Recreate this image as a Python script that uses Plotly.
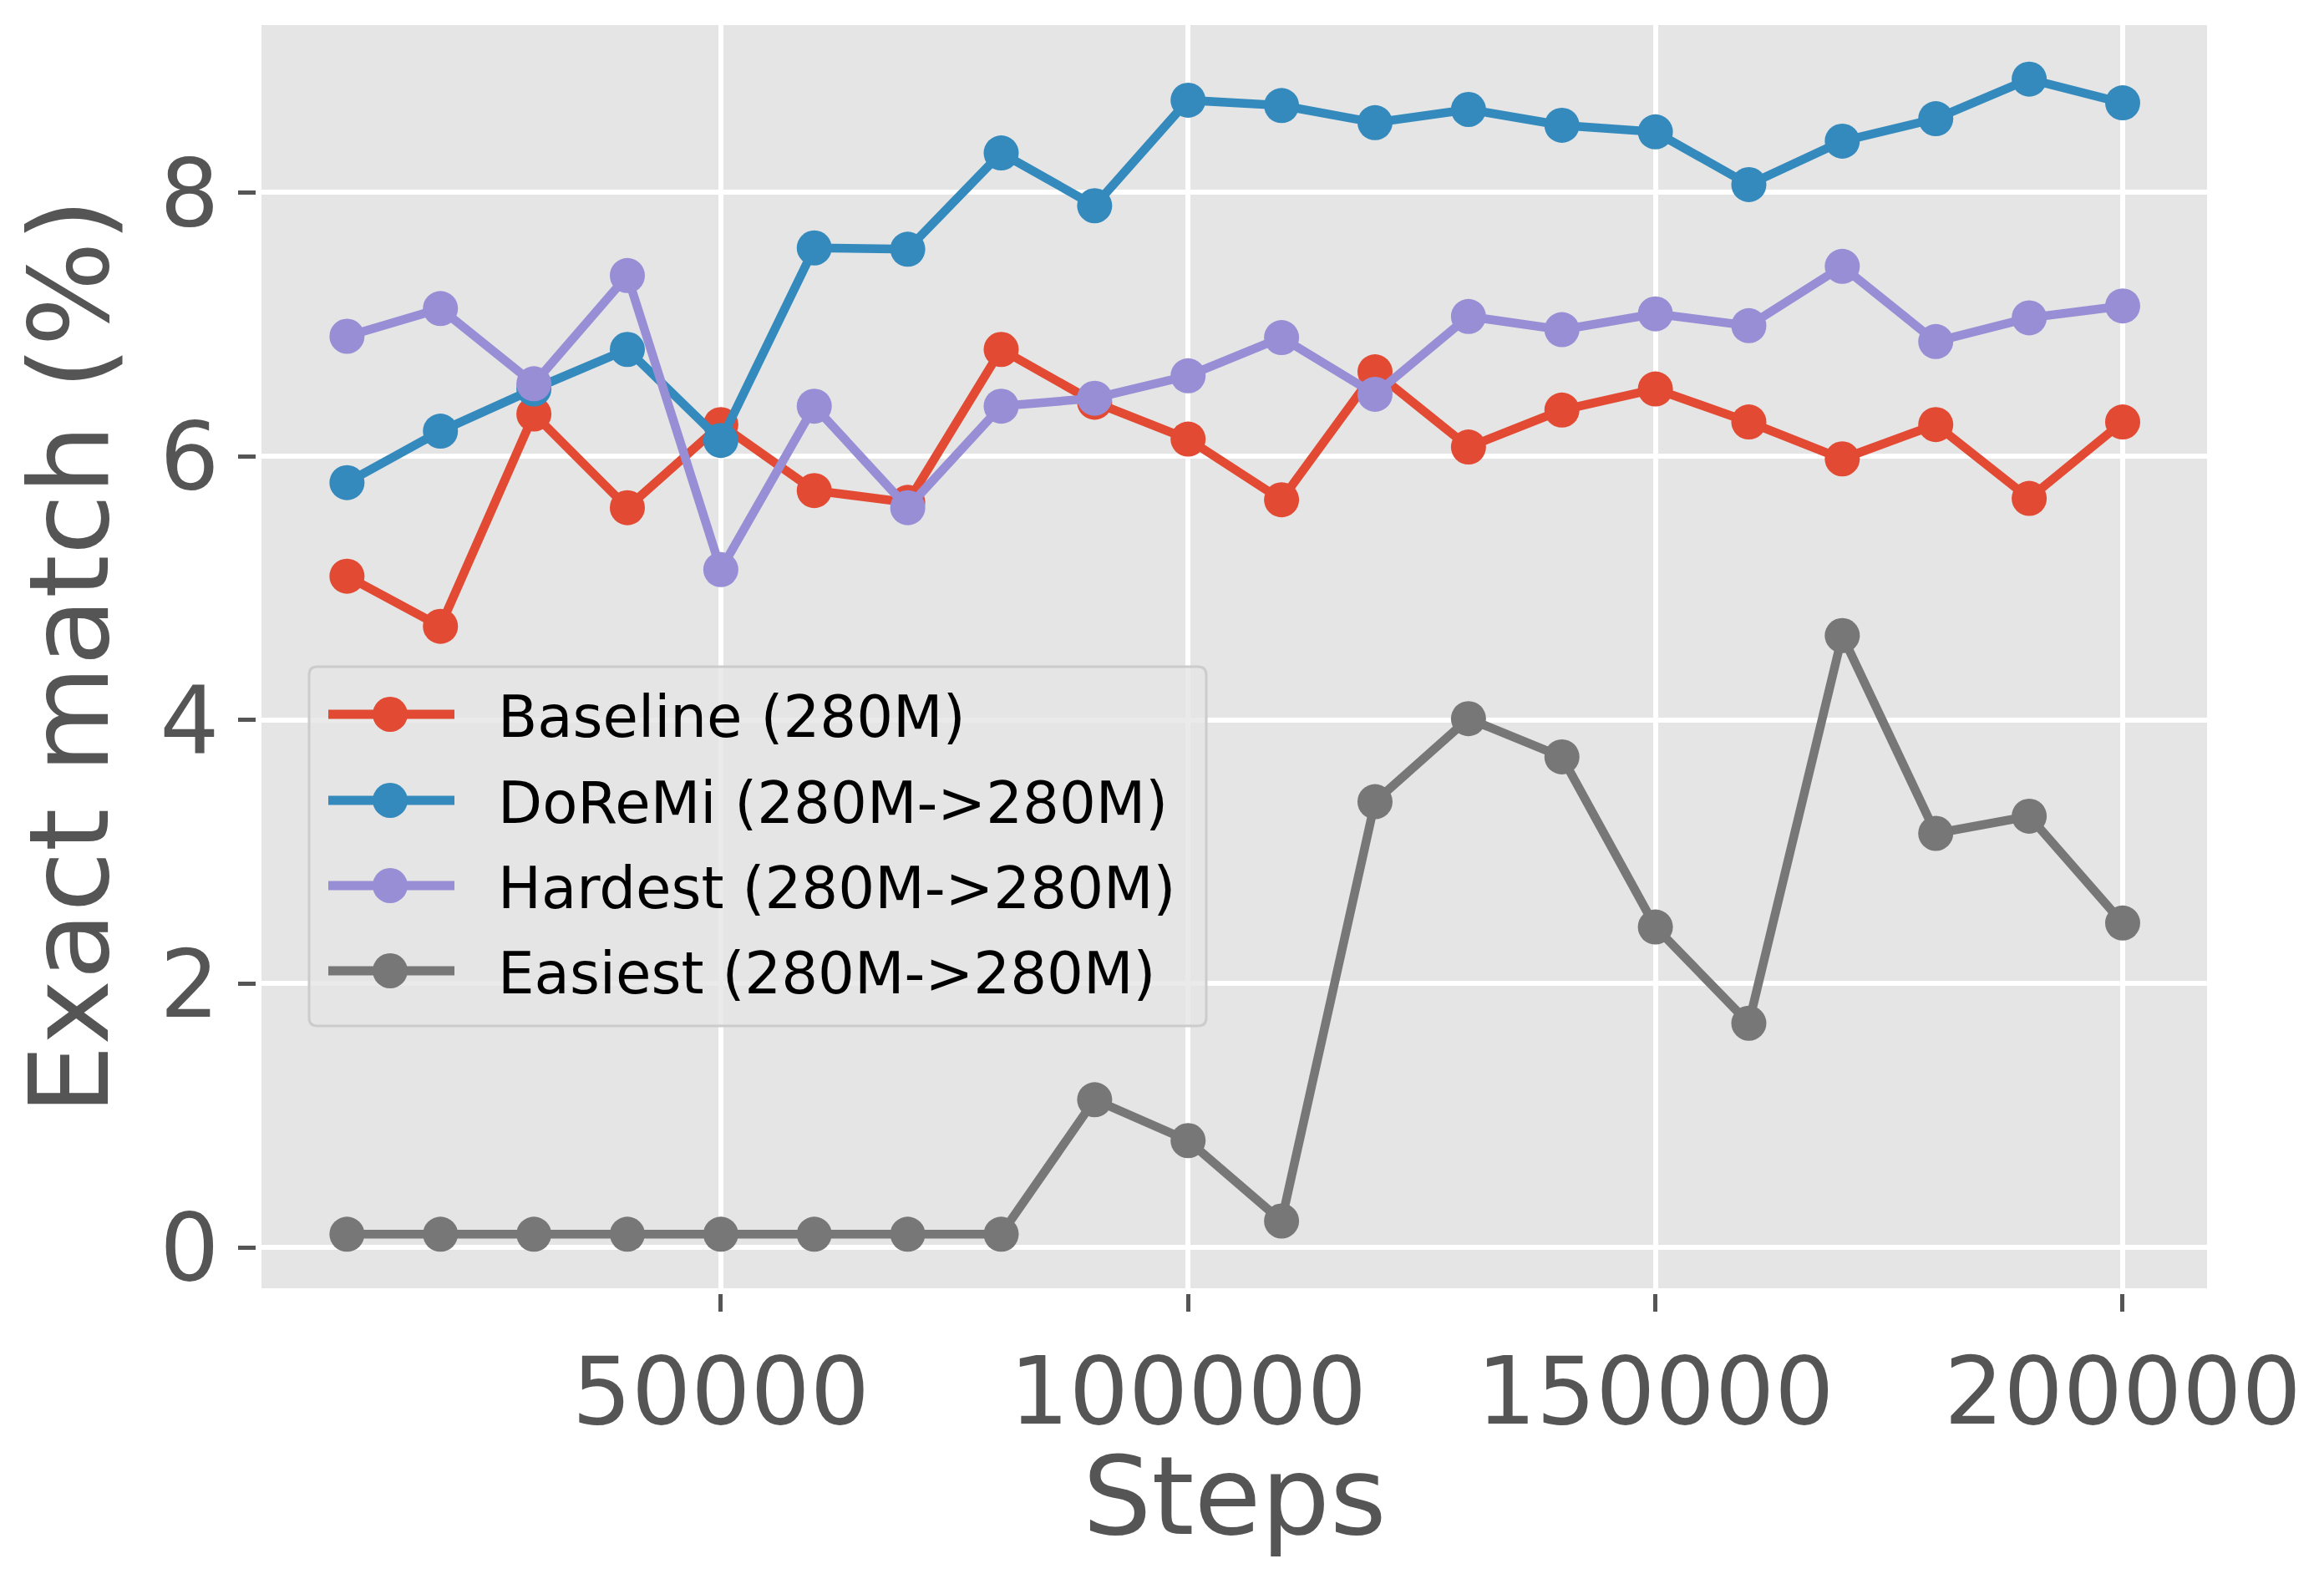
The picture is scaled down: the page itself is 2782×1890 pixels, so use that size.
import plotly.graph_objects as go

# ---- data ----
steps = [10000, 20000, 30000, 40000, 50000, 60000, 70000, 80000, 90000, 100000,
         110000, 120000, 130000, 140000, 150000, 160000, 170000, 180000, 190000, 200000]
baseline = [5.09, 4.71, 6.32, 5.61, 6.24, 5.74, 5.65, 6.81, 6.41, 6.13,
            5.67, 6.64, 6.07, 6.35, 6.51, 6.26, 5.98, 6.24, 5.68, 6.26]
doremi = [5.80, 6.19, 6.51, 6.81, 6.12, 7.58, 7.57, 8.30, 7.90, 8.70,
          8.66, 8.53, 8.63, 8.51, 8.46, 8.06, 8.39, 8.56, 8.86, 8.68]
hardest = [6.91, 7.12, 6.55, 7.37, 5.14, 6.38, 5.61, 6.38, 6.44, 6.61,
           6.90, 6.47, 7.06, 6.96, 7.08, 6.99, 7.44, 6.87, 7.05, 7.14]
easiest = [0.10, 0.10, 0.10, 0.10, 0.10, 0.10, 0.10, 0.10, 1.12, 0.81,
           0.20, 3.38, 4.01, 3.72, 2.43, 1.70, 4.64, 3.14, 3.27, 2.46]

series_names = ["Baseline (280M)", "DoReMi (280M->280M)",
                "Hardest (280M->280M)", "Easiest (280M->280M)"]
series_values = [baseline, doremi, hardest, easiest]
colors = ["#E24A33", "#348ABD", "#988ED5", "#777777"]

x_tickvals = [50000, 100000, 150000, 200000]
x_ticktext = ["50000", "100000", "150000", "200000"]
y_tickvals = [0, 2, 4, 6, 8]
y_ticktext = ["0", "2", "4", "6", "8"]
x_title = "Steps"
y_title = "Exact match (%)"

FONT = "DejaVu Sans"
W, H = 2782, 1890
ML, MR, MT, MB = 313, 140, 30, 348
PW, PH = W - ML - MR, H - MT - MB

fig = go.Figure()
for name, vals, col in zip(series_names, series_values, colors):
    fig.add_trace(go.Scatter(
        x=steps, y=vals, name=name, mode="lines+markers",
        line=dict(color=col, width=10.5),
        marker=dict(color=col, size=42, line=dict(width=0)),
        showlegend=False,
    ))

# ---- custom legend (matplotlib-like) ----
def px_x(p):
    return (p - ML) / PW

def px_y(p):
    return (MT + PH - p) / PH

shapes = []
annotations = []
lx0, lx1, ly0, ly1 = 370, 1444, 798, 1228
r = 10
def P(x, y):
    return f"{px_x(x):.5f},{px_y(y):.5f}"
path = (f"M {P(lx0 + r, ly0)} L {P(lx1 - r, ly0)} Q {P(lx1, ly0)} {P(lx1, ly0 + r)} "
        f"L {P(lx1, ly1 - r)} Q {P(lx1, ly1)} {P(lx1 - r, ly1)} "
        f"L {P(lx0 + r, ly1)} Q {P(lx0, ly1)} {P(lx0, ly1 - r)} "
        f"L {P(lx0, ly0 + r)} Q {P(lx0, ly0)} {P(lx0 + r, ly0)} Z")
shapes.append(dict(type="path", path=path, xref="paper", yref="paper",
                   fillcolor="rgba(229,229,229,0.8)",
                   line=dict(color="#CCCCCC", width=3), layer="above"))
entry_y = [855, 958, 1060, 1162]
for name, col, ey in zip(series_names, colors, entry_y):
    shapes.append(dict(type="line", xref="paper", yref="paper",
                       x0=px_x(393), x1=px_x(544), y0=px_y(ey), y1=px_y(ey),
                       line=dict(color=col, width=11), layer="above"))
    shapes.append(dict(type="circle", xref="paper", yref="paper",
                       xsizemode="pixel", ysizemode="pixel",
                       xanchor=px_x(467), yanchor=px_y(ey),
                       x0=-21, x1=21, y0=-21, y1=21,
                       fillcolor=col, line=dict(width=0), layer="above"))
    annotations.append(dict(text=name, xref="paper", yref="paper",
                            x=px_x(594), y=px_y(ey + 3), xanchor="left", yanchor="middle",
                            showarrow=False, font=dict(family=FONT, size=69, color="black")))

# x axis title
annotations.append(dict(text=x_title, xref="paper", yref="paper",
                        x=0.5, y=px_y(1791), xanchor="center", yanchor="middle",
                        borderpad=0,
                        showarrow=False, font=dict(family=FONT, size=130, color="#555555")))

fig.update_layout(
    width=W, height=H,
    margin=dict(l=ML, r=MR, t=MT, b=MB, autoexpand=False),
    paper_bgcolor="white", plot_bgcolor="#E5E5E5",
    font=dict(family=FONT, color="#555555"),
    shapes=shapes, annotations=annotations,
    showlegend=False,
)
fig.update_xaxes(
    range=[850, 209030], tickvals=x_tickvals, ticktext=x_ticktext,
    showgrid=True, gridcolor="white", gridwidth=5.5, zeroline=False,
    showline=True, linecolor="white", linewidth=7,
    ticks="outside", ticklen=21, tickwidth=5, tickcolor="#555555",
    tickfont=dict(family=FONT, size=112, color="#555555"),
    automargin=False,
)
fig.update_yaxes(
    range=[-0.31, 9.27], tickvals=y_tickvals, ticktext=y_ticktext,
    showgrid=True, gridcolor="white", gridwidth=5.5, zeroline=False,
    showline=True, linecolor="white", linewidth=7,
    ticks="outside", ticklen=21, tickwidth=5, tickcolor="#555555",
    tickfont=dict(family=FONT, size=112, color="#555555"),
    title=dict(text=y_title, font=dict(family=FONT, size=132, color="#555555"), standoff=20),
    automargin=False,
)

fig.write_html("out.html")
